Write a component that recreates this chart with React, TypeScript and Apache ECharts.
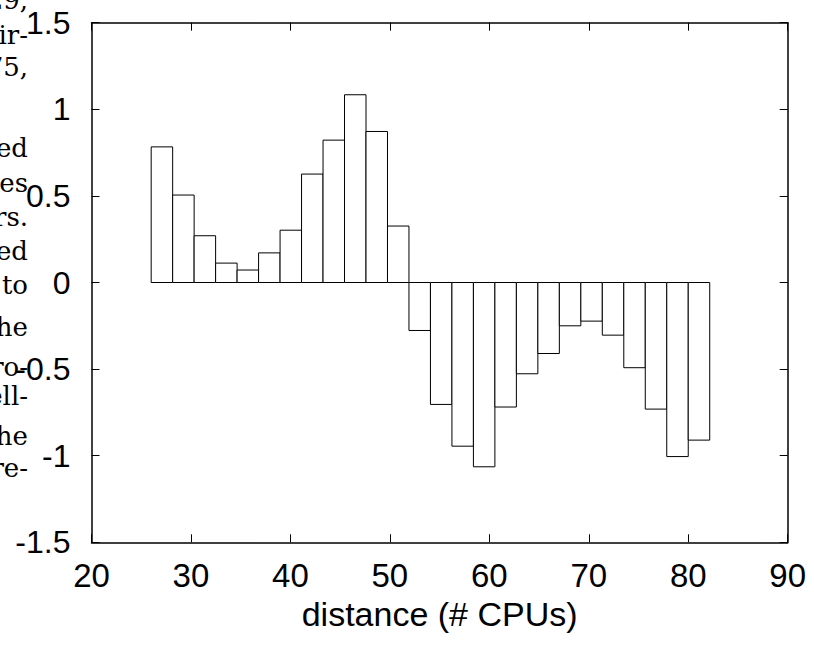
import React, { useEffect, useRef } from "react";
import * as echarts from "echarts";

// bin centres (distance, # CPUs) and histogram values
const binCenters = [
  27.08, 29.24, 31.4, 33.56, 35.72, 37.88, 40.04, 42.2, 44.36, 46.52, 48.68, 50.84,
  53.0, 55.16, 57.32, 59.48, 61.64, 63.8, 65.96, 68.12, 70.28, 72.44, 74.6, 76.76,
  78.92, 81.08,
];
const binWidth = 2.16;
const values = [
  0.783, 0.505, 0.27, 0.112, 0.072, 0.171, 0.302, 0.626, 0.822, 1.084, 0.872, 0.326,
  -0.277, -0.704, -0.945, -1.064, -0.719, -0.527, -0.41, -0.25, -0.223, -0.304,
  -0.492, -0.731, -1.005, -0.91,
];
const xRange = { min: 20, max: 90, step: 10 };
const yRange = { min: -1.5, max: 1.5, step: 0.5 };
const xTitle = "distance (# CPUs)";

// fragments of the neighbouring paragraph visible at the left edge
const sideText = ["29,", "ir-", "75,", "", "ed", "es", "rs.", "ed", "to", "he", "ro-", "ell-", "he", "re-"];
const sideBaselines = [9, 44, 76, 112, 157, 192, 226, 260, 294, 336, 376, 405, 445, 477];

const SANS = "'Liberation Sans', Arial, Helvetica, sans-serif";
const SERIF = "'DejaVu Serif', 'Liberation Serif', serif";

export default function App() {
  const ref = useRef<HTMLDivElement>(null);
  useEffect(() => {
    if (!ref.current) return;
    const chart = echarts.init(ref.current, null, { renderer: "svg" });
    const frameLine = { show: true, onZero: false, lineStyle: { color: "#000", width: 1.5 } };
    const tick = { show: true, inside: true, length: 8, lineStyle: { color: "#000", width: 1 } };
    const fs = 26;
    const option: any = {
      animation: false,
      backgroundColor: "#fff",
      grid: { left: 91.5, right: 26.3, top: 22.7, bottom: 103.7, containLabel: false },
      xAxis: [
        {
          type: "value",
          position: "bottom",
          min: xRange.min,
          max: xRange.max,
          interval: xRange.step,
          axisLine: frameLine,
          axisTick: tick,
          splitLine: { show: false },
          axisLabel: { color: "#000", fontSize: 33, fontFamily: SANS, margin: 17 },
          name: xTitle,
          nameLocation: "middle",
          nameGap: 55,
          nameTextStyle: { color: "#000", fontSize: 34, fontFamily: SANS },
        },
        {
          type: "value",
          position: "top",
          min: xRange.min,
          max: xRange.max,
          interval: xRange.step,
          axisLine: frameLine,
          axisTick: tick,
          splitLine: { show: false },
          axisLabel: { show: false },
        },
      ],
      yAxis: [
        {
          type: "value",
          position: "left",
          min: yRange.min,
          max: yRange.max,
          interval: yRange.step,
          axisLine: frameLine,
          axisTick: tick,
          splitLine: { show: false },
          axisLabel: { color: "#000", fontSize: 32, fontFamily: SANS, margin: 21 },
        },
        {
          type: "value",
          position: "right",
          min: yRange.min,
          max: yRange.max,
          interval: yRange.step,
          axisLine: frameLine,
          axisTick: tick,
          splitLine: { show: false },
          axisLabel: { show: false },
        },
      ],
      series: [
        {
          type: "custom",
          xAxisIndex: 0,
          yAxisIndex: 0,
          data: binCenters.map((x, i) => [x, values[i]]),
          encode: { x: 0, y: 1 },
          renderItem: (_params: any, api: any) => {
            const x = api.value(0);
            const v = api.value(1);
            const p0 = api.coord([x - binWidth / 2, 0]);
            const p1 = api.coord([x + binWidth / 2, v]);
            return {
              type: "rect",
              shape: {
                x: p0[0],
                y: Math.min(p0[1], p1[1]),
                width: p1[0] - p0[0],
                height: Math.abs(p1[1] - p0[1]),
              },
              style: { fill: "#fff", stroke: "#000", lineWidth: 1 },
            };
          },
        },
      ],
      graphic: sideText
        .map((t, i) =>
          t
            ? {
                type: "text",
                z: -1,
                x: 28,
                y: sideBaselines[i] - fs * 0.35,
                style: {
                  text: t,
                  fill: "#000",
                  font: `${fs}px ${SERIF}`,
                  align: "right",
                  verticalAlign: "middle",
                },
              }
            : null
        )
        .filter(Boolean),
    };
    chart.setOption(option);
    return () => chart.dispose();
  }, []);
  return (
    <div
      ref={ref}
      style={{ position: "absolute", left: 0, top: 0, width: 814, height: 646, background: "#fff" }}
    />
  );
}
